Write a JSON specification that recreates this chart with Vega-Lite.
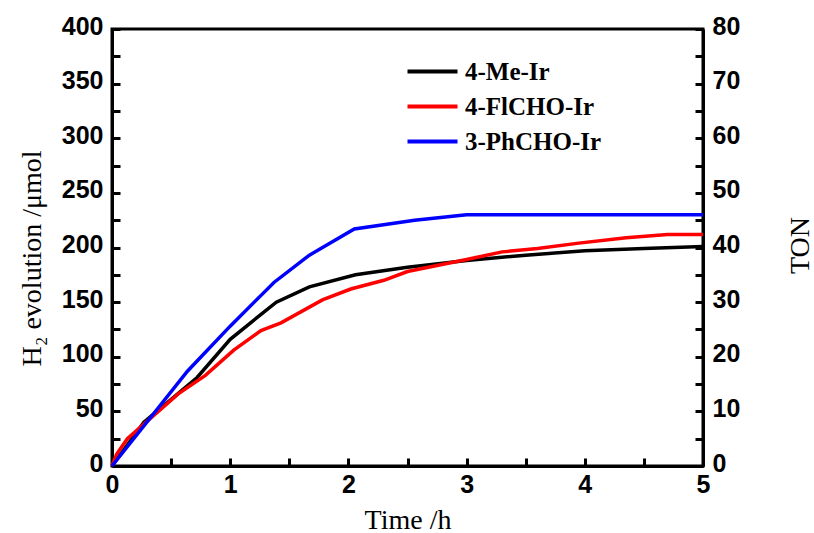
{
  "$schema": "https://vega.github.io/schema/vega-lite/v6.json",
  "width": 591,
  "height": 437,
  "autosize": {"type": "none"},
  "padding": {"left": 112, "top": 29, "right": 111, "bottom": 67},
  "background": "white",
  "config": {
    "view": {"stroke": "black", "strokeWidth": 3},
    "axis": {
      "grid": false,
      "domainColor": "black",
      "domainWidth": 3,
      "ticks": true,
      "tickColor": "black",
      "tickWidth": 3,
      "tickSize": -8,
      "labelFont": "Liberation Sans",
      "labelFontWeight": "bold",
      "labelFontSize": 25,
      "labelColor": "black",
      "labelFlush": false,
      "labelOverlap": false,
      "titleFont": "Liberation Serif",
      "titleFontWeight": "normal",
      "titleFontSize": 28,
      "titleColor": "black",
      "zindex": 1
    }
  },
  "layer": [
    {
      "data": {
        "values": [
          {"sample": "4-Me-Ir", "time": 0, "h2": 0},
          {"sample": "4-Me-Ir", "time": 0.27, "h2": 40},
          {"sample": "4-Me-Ir", "time": 0.72, "h2": 81},
          {"sample": "4-Me-Ir", "time": 1.0, "h2": 116},
          {"sample": "4-Me-Ir", "time": 1.39, "h2": 150},
          {"sample": "4-Me-Ir", "time": 1.67, "h2": 164},
          {"sample": "4-Me-Ir", "time": 2.06, "h2": 175},
          {"sample": "4-Me-Ir", "time": 2.5, "h2": 182},
          {"sample": "4-Me-Ir", "time": 3.0, "h2": 188},
          {"sample": "4-Me-Ir", "time": 3.5, "h2": 193},
          {"sample": "4-Me-Ir", "time": 4.0, "h2": 197},
          {"sample": "4-Me-Ir", "time": 4.5, "h2": 199},
          {"sample": "4-Me-Ir", "time": 5.0, "h2": 201},
          {"sample": "4-FlCHO-Ir", "time": 0, "h2": 0},
          {"sample": "4-FlCHO-Ir", "time": 0.04, "h2": 11},
          {"sample": "4-FlCHO-Ir", "time": 0.13, "h2": 25},
          {"sample": "4-FlCHO-Ir", "time": 0.56, "h2": 66},
          {"sample": "4-FlCHO-Ir", "time": 0.79, "h2": 83},
          {"sample": "4-FlCHO-Ir", "time": 1.03, "h2": 106},
          {"sample": "4-FlCHO-Ir", "time": 1.26, "h2": 124},
          {"sample": "4-FlCHO-Ir", "time": 1.43, "h2": 131},
          {"sample": "4-FlCHO-Ir", "time": 1.78, "h2": 152},
          {"sample": "4-FlCHO-Ir", "time": 2.02, "h2": 162},
          {"sample": "4-FlCHO-Ir", "time": 2.3, "h2": 170},
          {"sample": "4-FlCHO-Ir", "time": 2.5, "h2": 178},
          {"sample": "4-FlCHO-Ir", "time": 3.0, "h2": 189},
          {"sample": "4-FlCHO-Ir", "time": 3.3, "h2": 196},
          {"sample": "4-FlCHO-Ir", "time": 3.6, "h2": 199},
          {"sample": "4-FlCHO-Ir", "time": 3.95, "h2": 204},
          {"sample": "4-FlCHO-Ir", "time": 4.35, "h2": 209},
          {"sample": "4-FlCHO-Ir", "time": 4.7, "h2": 212},
          {"sample": "4-FlCHO-Ir", "time": 5.0, "h2": 212},
          {"sample": "3-PhCHO-Ir", "time": 0, "h2": 0},
          {"sample": "3-PhCHO-Ir", "time": 0.64, "h2": 87},
          {"sample": "3-PhCHO-Ir", "time": 1.0, "h2": 128},
          {"sample": "3-PhCHO-Ir", "time": 1.37, "h2": 168},
          {"sample": "3-PhCHO-Ir", "time": 1.67, "h2": 193},
          {"sample": "3-PhCHO-Ir", "time": 2.05, "h2": 217},
          {"sample": "3-PhCHO-Ir", "time": 2.56, "h2": 225},
          {"sample": "3-PhCHO-Ir", "time": 3.0, "h2": 230},
          {"sample": "3-PhCHO-Ir", "time": 4.0, "h2": 230},
          {"sample": "3-PhCHO-Ir", "time": 5.0, "h2": 230}
        ]
      },
      "mark": {"type": "line", "strokeWidth": 3.5},
      "encoding": {
        "x": {
          "field": "time",
          "type": "quantitative",
          "scale": {"domain": [0, 5], "nice": false},
          "axis": {
            "values": [0, 0.5, 1, 1.5, 2, 2.5, 3, 3.5, 4, 4.5, 5],
            "labelExpr": "datum.value % 1 === 0 ? format(datum.value, 'd') : ''",
            "labelPadding": 14,
            "title": "Time /h",
            "titleBaseline": "alphabetic",
            "titleY": 62
          }
        },
        "y": {
          "field": "h2",
          "type": "quantitative",
          "scale": {"domain": [0, 400], "nice": false},
          "axis": {
            "values": [0, 25, 50, 75, 100, 125, 150, 175, 200, 225, 250, 275, 300, 325, 350, 375, 400],
            "labelExpr": "datum.value % 50 === 0 ? datum.label : ''",
            "labelPadding": 17,
            "labelOffset": -3,
            "title": "H₂ evolution /μmol",
            "titleAngle": 270,
            "titleBaseline": "alphabetic",
            "titleAlign": "center",
            "titleX": -72,
            "titleY": 229
          }
        },
        "color": {
          "field": "sample",
          "type": "nominal",
          "scale": {"domain": ["4-Me-Ir", "4-FlCHO-Ir", "3-PhCHO-Ir"], "range": ["#000000", "#ff0000", "#0000ff"]},
          "legend": {
            "orient": "none",
            "legendX": 308,
            "legendY": 30,
            "title": null,
            "padding": 0,
            "symbolType": "M-2.5,0H2.5",
            "symbolSize": 400,
            "symbolStrokeWidth": 4,
            "labelFont": "Liberation Serif",
            "labelFontWeight": "bold",
            "labelFontSize": 25,
            "labelColor": "black",
            "labelOffset": 20,
            "rowPadding": 9
          }
        }
      }
    },
    {
      "data": {"values": [{"ton": 0}, {"ton": 80}]},
      "mark": {"type": "point", "opacity": 0},
      "encoding": {
        "y": {
          "field": "ton",
          "type": "quantitative",
          "scale": {"domain": [0, 80], "nice": false},
          "axis": {
            "orient": "right",
            "values": [0, 5, 10, 15, 20, 25, 30, 35, 40, 45, 50, 55, 60, 65, 70, 75, 80],
            "labelExpr": "datum.value % 10 === 0 ? datum.label : ''",
            "labelPadding": 17,
            "labelOffset": -3,
            "title": "TON",
            "titleAngle": 270,
            "titleBaseline": "alphabetic",
            "titleAlign": "center",
            "titleX": 105,
            "titleY": 216
          }
        }
      }
    }
  ],
  "resolve": {"scale": {"y": "independent"}}
}
